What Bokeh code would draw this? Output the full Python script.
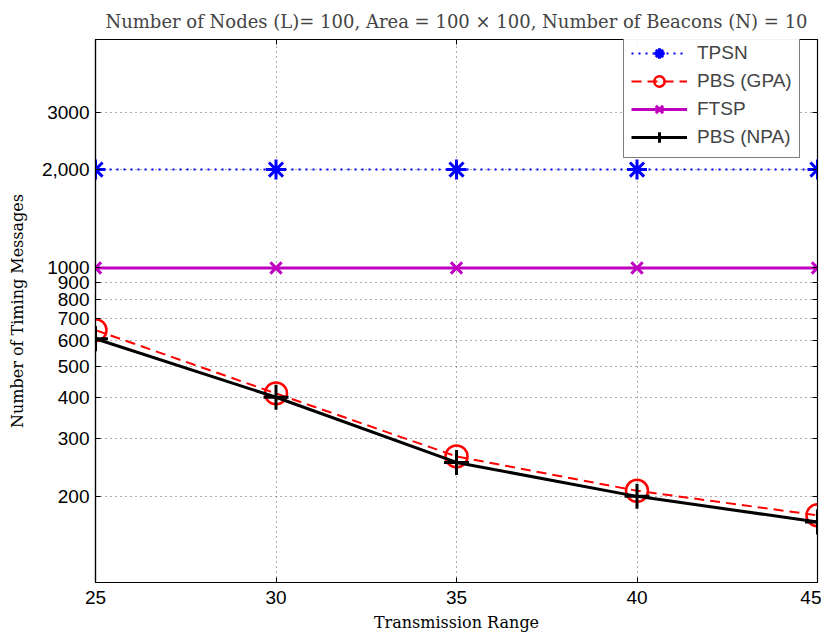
from bokeh.plotting import figure
from bokeh.models import FixedTicker, LinearAxis, LogAxis, Range1d, Legend, LegendItem, CustomJSTickFormatter
from bokeh.embed import file_html
from bokeh.resources import INLINE

x = [25, 30, 35, 40, 45]
tpsn = [2000, 2000, 2000, 2000, 2000]
pbs_gpa = [645, 413, 265, 208, 175]
ftsp = [1000, 1000, 1000, 1000, 1000]
pbs_npa = [607, 402, 254, 200, 167]

y_ticks = [200, 300, 400, 500, 600, 700, 800, 900, 1000, 2000, 3000]
y_tick_labels = {200: "200", 300: "300", 400: "400", 500: "500", 600: "600", 700: "700",
                 800: "800", 900: "900", 1000: "1000", 2000: "2,000", 3000: "3000"}
x_ticks = [25, 30, 35, 40, 45]

title_text = "Number of Nodes (L)= 100, Area = 100 \u00d7 100, Number of Beacons (N) = 10"
x_label = "Transmission Range"
y_label = "Number of Timing Messages"

SERIF = "DejaVu Serif"
SANS = "Liberation Sans"

p = figure(frame_width=722, frame_height=543, y_axis_type="log",
           x_range=Range1d(25, 45), y_range=Range1d(109, 5000),
           output_backend="svg", toolbar_location=None,
           min_border_left=95, min_border_right=4, min_border_top=38, min_border_bottom=50)

p.title.text = title_text
p.title.text_font = SERIF
p.title.text_font_size = "18px"
p.title.text_font_style = "normal"
p.title.align = "center"
p.title.standoff = 16

p.outline_line_color = "black"
p.outline_line_width = 1.2

for ax in [p.xaxis[0], p.yaxis[0]]:
    ax.major_tick_in = 5
    ax.major_tick_out = 0
    ax.minor_tick_in = 0
    ax.minor_tick_out = 0
    ax.axis_line_color = "black"
    ax.axis_line_width = 1.2
    ax.major_tick_line_color = "black"
    ax.major_label_text_font = SANS
    ax.major_label_text_font_size = "19px"
    ax.major_label_text_color = "black"
    ax.axis_label_text_font = SERIF
    ax.axis_label_text_font_size = "16px"
    ax.axis_label_text_font_style = "normal"
    ax.axis_label_text_color = "black"

p.xaxis.ticker = FixedTicker(ticks=x_ticks)
p.yaxis.ticker = FixedTicker(ticks=y_ticks)
p.yaxis.major_label_overrides = y_tick_labels
p.xaxis.axis_label = x_label
p.yaxis.axis_label = y_label
p.xaxis.major_label_standoff = 8
p.yaxis.major_label_standoff = 6
p.xaxis.axis_label_standoff = 6
p.yaxis.axis_label_standoff = 12

blank = CustomJSTickFormatter(code="return ''")
ra = LogAxis(ticker=FixedTicker(ticks=y_ticks), formatter=blank,
             major_tick_in=5, major_tick_out=0, minor_tick_in=0, minor_tick_out=0,
             axis_line_color="black", major_label_standoff=0)
ta = LinearAxis(ticker=FixedTicker(ticks=x_ticks), formatter=blank,
                major_tick_in=5, major_tick_out=0, minor_tick_in=0, minor_tick_out=0,
                axis_line_color="black", major_label_standoff=0)
p.add_layout(ra, "right")
p.add_layout(ta, "above")

for g in [p.xgrid[0], p.ygrid[0]]:
    g.grid_line_color = "#333333"
    g.grid_line_dash = "1 4"
    g.grid_line_width = 1
    g.grid_line_alpha = 0.8
p.xgrid.ticker = FixedTicker(ticks=x_ticks)
p.ygrid.ticker = FixedTicker(ticks=y_ticks)

blue = "#0000FF"
red = "#FF0000"
mag = "#BF00BF"

l1 = p.line(x, tpsn, line_color=blue, line_width=2, line_dash="2 5")
m1 = p.scatter(x, tpsn, marker="asterisk", size=20, line_color=blue, line_width=3)
l2 = p.line(x, pbs_gpa, line_color=red, line_width=2, line_dash="10 6")
m2 = p.scatter(x, pbs_gpa, marker="circle", size=22, line_color=red, fill_color=None, line_width=2.5)
l3 = p.line(x, ftsp, line_color=mag, line_width=3)
m3 = p.scatter(x, ftsp, marker="x", size=16, line_color=mag, line_width=3)
l4 = p.line(x, pbs_npa, line_color="black", line_width=3)
m4 = p.scatter(x, pbs_npa, marker="cross", size=25, line_color="black", line_width=3)

legend = Legend(items=[
    LegendItem(label="TPSN", renderers=[l1, m1]),
    LegendItem(label="PBS (GPA)", renderers=[l2, m2]),
    LegendItem(label="FTSP", renderers=[l3, m3]),
    LegendItem(label="PBS (NPA)", renderers=[l4, m4]),
], location=(528, 424))
legend.label_text_font = SANS
legend.label_text_font_size = "19px"
legend.border_line_color = "black"
legend.border_line_width = 1.2
legend.glyph_width = 56
legend.glyph_height = 26
legend.label_height = 24
legend.spacing = 2
legend.padding = 7
legend.margin = 0
legend.label_standoff = 10
p.add_layout(legend, "center")

open("out.html", "w").write(file_html(p, INLINE))
